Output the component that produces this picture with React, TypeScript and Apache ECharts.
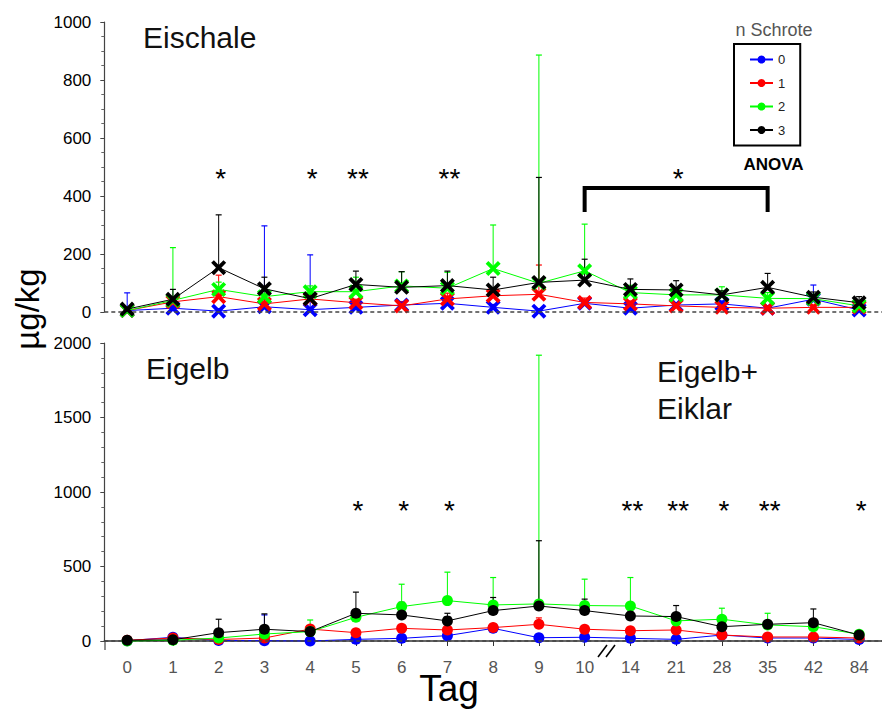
import React, { useEffect, useRef } from "react";
import * as echarts from "echarts";

// Sampling days (x categories)
const days = ["0", "1", "2", "3", "4", "5", "6", "7", "8", "9", "10", "14", "21", "28", "35", "42", "84"];

// Groups: number of shot pellets
const groups = ["0", "1", "2", "3"];
const groupColors = ["#0000ff", "#ff0000", "#00ff00", "#000000"];

// Eischale (µg/kg): means and upper standard deviations per group
const shellMean0 = [5, 13, 3, 18, 8, 16, 24, 30, 16, 3, 30, 13, 24, 28, 13, 44, 7];
const shellSd0 = [61, 8, 8, 279, 189, 10, 10, 12, 10, 8, 10, 8, 8, 10, 8, 49, 6];
const shellMean1 = [5, 35, 53, 28, 45, 32, 21, 45, 56, 61, 33, 28, 21, 16, 13, 16, 16];
const shellSd1 = [5, 10, 74, 15, 12, 12, 15, 20, 15, 101, 15, 10, 8, 8, 6, 8, 5];
const shellMean2 = [5, 40, 78, 53, 70, 70, 90, 82, 150, 99, 142, 67, 59, 59, 47, 46, 21];
const shellSd2 = [5, 182, 25, 30, 20, 50, 49, 55, 150, 787, 161, 25, 20, 28, 20, 15, 10];
const shellMean3 = [10, 44, 153, 80, 46, 95, 85, 91, 76, 102, 110, 78, 76, 59, 85, 51, 32];
const shellSd3 = [5, 34, 182, 40, 15, 46, 54, 50, 44, 362, 72, 36, 32, 14, 48, 18, 21];

// Eigelb / Eigelb+Eiklar (µg/kg)
const yolkMean0 = [2, 25, 3, 2, 0, 11, 18, 36, 85, 22, 25, 18, 11, 40, 20, 20, 10];
const yolkSd0 = [3, 10, 5, 173, 5, 5, 8, 10, 20, 10, 10, 8, 5, 10, 5, 5, 5];
const yolkMean1 = [5, 20, 10, 20, 80, 56, 85, 74, 90, 112, 79, 69, 74, 40, 27, 27, 20];
const yolkSd1 = [3, 8, 10, 15, 20, 15, 20, 20, 25, 43, 20, 15, 15, 8, 5, 5, 5];
const yolkMean2 = [0, 5, 20, 47, 63, 159, 231, 271, 242, 249, 238, 235, 135, 146, 108, 96, 45];
const yolkSd2 = [3, 5, 15, 20, 78, 40, 150, 191, 184, 1669, 177, 191, 25, 74, 78, 20, 10];
const yolkMean3 = [5, 8, 56, 79, 63, 186, 175, 135, 204, 235, 204, 168, 164, 96, 112, 123, 40];
const yolkSd3 = [3, 8, 90, 103, 20, 142, 85, 51, 88, 438, 77, 32, 74, 20, 25, 92, 10];

const shellMeans = [shellMean0, shellMean1, shellMean2, shellMean3];
const shellSds = [shellSd0, shellSd1, shellSd2, shellSd3];
const yolkMeans = [yolkMean0, yolkMean1, yolkMean2, yolkMean3];
const yolkSds = [yolkSd0, yolkSd1, yolkSd2, yolkSd3];

// Significance marks
const shellStarDays = ["2", "4", "5", "7", "21"];
const shellStarMarks = ["*", "*", "**", "**", "*"];
const yolkStarDays = ["5", "6", "7", "14", "21", "28", "35", "84"];
const yolkStarMarks = ["*", "*", "*", "**", "**", "*", "**", "*"];
const shellStarLevel = 462;
const yolkStarLevel = 875;

// ANOVA bracket over days 10..35 in the shell panel
const anovaFrom = "10";
const anovaTo = "35";
const anovaTop = 428;
const anovaEnd = 345;

const FONT = "'Liberation Sans', Arial, Helvetica, sans-serif";
const crossSymbol =
  "path://M0,1.8 L1.8,0 L5,3.2 L8.2,0 L10,1.8 L6.8,5 L10,8.2 L8.2,10 L5,6.8 L1.8,10 L0,8.2 L3.2,5 Z";

function errorSeries(panel: number, g: number, means: number[], sds: number[]) {
  const color = groupColors[g];
  return {
    type: "custom",
    xAxisIndex: panel,
    yAxisIndex: panel,
    silent: true,
    clip: false,
    z: 2,
    encode: { x: 0, y: 1 },
    data: means.map((m, i) => [i, m, sds[i]]),
    renderItem: (params: any, api: any) => {
      const i = api.value(0);
      const m = api.value(1);
      const s = api.value(2);
      const base = api.coord([i, m]);
      const top = api.coord([i, m + s]);
      return {
        type: "group",
        children: [
          {
            type: "line",
            shape: { x1: base[0], y1: base[1], x2: top[0], y2: top[1] },
            style: { stroke: color, lineWidth: 1 },
          },
          {
            type: "line",
            shape: { x1: top[0] - 3, y1: top[1], x2: top[0] + 3, y2: top[1] },
            style: { stroke: color, lineWidth: 1.2 },
          },
        ],
      };
    },
  };
}

function lineSeries(panel: number, g: number, means: number[], withZero: boolean) {
  const color = groupColors[g];
  const s: any = {
    type: "line",
    name: groups[g],
    xAxisIndex: panel,
    yAxisIndex: panel,
    data: means,
    symbol: panel === 0 ? crossSymbol : "circle",
    symbolSize: panel === 0 ? 15 : 11,
    showAllSymbol: true,
    clip: false,
    z: 3 + g,
    itemStyle: { color },
    lineStyle: { color, width: 1 },
  };
  if (withZero) {
    s.markLine = {
      silent: true,
      symbol: "none",
      label: { show: false },
      lineStyle: { type: [4, 3], color: "#444", width: 1.5 },
      data: [{ yAxis: 0 }],
    };
  }
  return s;
}

function starSeries(panel: number, starDays: string[], marks: string[], level: number) {
  return {
    type: "custom",
    xAxisIndex: panel,
    yAxisIndex: panel,
    silent: true,
    clip: false,
    z: 10,
    encode: { x: 0, y: 1 },
    data: starDays.map((d) => [days.indexOf(d), level]),
    renderItem: (params: any, api: any) => {
      const p = api.coord([api.value(0), api.value(1)]);
      return {
        type: "text",
        x: p[0] + 2,
        y: p[1],
        style: {
          text: marks[params.dataIndex],
          fill: "#000",
          font: `28px ${FONT}`,
          align: "center",
          verticalAlign: "middle",
        },
      };
    },
  };
}

function bracketSeries() {
  return {
    type: "custom",
    xAxisIndex: 0,
    yAxisIndex: 0,
    silent: true,
    clip: false,
    z: 10,
    encode: { x: 0, y: 1 },
    data: [[days.indexOf(anovaFrom), anovaTop, days.indexOf(anovaTo), anovaEnd]],
    renderItem: (params: any, api: any) => {
      const a = api.coord([api.value(0), api.value(1)]);
      const b = api.coord([api.value(2), api.value(1)]);
      const e = api.coord([api.value(0), api.value(3)]);
      return {
        type: "polyline",
        shape: {
          points: [
            [a[0], e[1]],
            [a[0], a[1]],
            [b[0], b[1]],
            [b[0], e[1]],
          ],
        },
        style: { stroke: "#000", lineWidth: 4, fill: null },
      };
    },
  };
}

export default function App() {
  const ref = useRef<HTMLDivElement>(null);

  useEffect(() => {
    if (!ref.current) return;
    const chart = echarts.init(ref.current, null, { renderer: "svg" });

    const series: any[] = [];
    // Yolk lines first so that the legend uses the circle markers
    groups.forEach((_, g) => series.push(lineSeries(1, g, yolkMeans[g], g === 0)));
    groups.forEach((_, g) => series.push(lineSeries(0, g, shellMeans[g], g === 0)));
    groups.forEach((_, g) => series.push(errorSeries(0, g, shellMeans[g], shellSds[g])));
    groups.forEach((_, g) => series.push(errorSeries(1, g, yolkMeans[g], yolkSds[g])));
    series.push(starSeries(0, shellStarDays, shellStarMarks, shellStarLevel));
    series.push(starSeries(1, yolkStarDays, yolkStarMarks, yolkStarLevel));
    series.push(bracketSeries());

    const yLabel = {
      color: "#000",
      fontSize: 17,
      margin: 13,
      fontFamily: FONT,
      formatter: (v: number) => String(v),
    };

    chart.setOption({
      animation: false,
      backgroundColor: "#fff",
      textStyle: { fontFamily: FONT },
      grid: [
        { left: 104.3, top: 22, width: 781, height: 290 },
        { left: 104.3, top: 343, width: 781, height: 298 },
      ],
      xAxis: [
        {
          type: "category",
          gridIndex: 0,
          data: days,
          boundaryGap: true,
          axisLine: { show: false },
          axisTick: { show: false },
          axisLabel: { show: false },
          splitLine: { show: false },
        },
        {
          type: "category",
          gridIndex: 1,
          data: days,
          boundaryGap: true,
          offset: 9,
          axisLine: { show: true, lineStyle: { color: "#333", width: 1.5 } },
          axisTick: { show: true, alignWithLabel: true, length: 5, lineStyle: { color: "#333" } },
          axisLabel: { color: "#555", fontSize: 17, margin: 9, fontFamily: FONT },
          splitLine: { show: false },
        },
      ],
      yAxis: [
        {
          type: "value",
          gridIndex: 0,
          min: 0,
          max: 1000,
          interval: 200,
          axisLine: { show: true, lineStyle: { color: "#444", width: 1.2 } },
          axisTick: { show: true, length: 4, lineStyle: { color: "#444" } },
          minorTick: { show: true, splitNumber: 4, length: 3, lineStyle: { color: "#666" } },
          axisLabel: yLabel,
          splitLine: { show: false },
        },
        {
          type: "value",
          gridIndex: 1,
          min: 0,
          max: 2000,
          interval: 500,
          axisLine: { show: true, lineStyle: { color: "#444", width: 1.2 } },
          axisTick: { show: true, length: 4, lineStyle: { color: "#444" } },
          minorTick: { show: true, splitNumber: 5, length: 3, lineStyle: { color: "#666" } },
          axisLabel: yLabel,
          splitLine: { show: false },
        },
      ],
      legend: {
        data: groups,
        orient: "vertical",
        left: 734,
        top: 44,
        padding: [9, 15, 9, 15],
        itemWidth: 23,
        itemHeight: 10,
        itemGap: 10.5,
        borderColor: "#000",
        borderWidth: 2,
        selectedMode: false,
        textStyle: { fontSize: 13, color: "#222", fontFamily: FONT },
      },
      graphic: [
        {
          type: "text",
          x: 143,
          y: 37.5,
          style: { text: "Eischale", font: `30px ${FONT}`, fill: "#111", verticalAlign: "middle" },
        },
        {
          type: "text",
          x: 146,
          y: 368.5,
          style: { text: "Eigelb", font: `30px ${FONT}`, fill: "#111", verticalAlign: "middle" },
        },
        {
          type: "text",
          x: 657,
          y: 371,
          style: { text: "Eigelb+", font: `30px ${FONT}`, fill: "#111", verticalAlign: "middle" },
        },
        {
          type: "text",
          x: 657,
          y: 408,
          style: { text: "Eiklar", font: `30px ${FONT}`, fill: "#111", verticalAlign: "middle" },
        },
        {
          type: "text",
          x: 773.5,
          y: 164,
          style: {
            text: "ANOVA",
            font: `bold 17px ${FONT}`,
            fill: "#000",
            align: "center",
            verticalAlign: "middle",
          },
        },
        {
          type: "text",
          x: 774,
          y: 30,
          style: {
            text: "n Schrote",
            font: `18px ${FONT}`,
            fill: "#555",
            align: "center",
            verticalAlign: "middle",
          },
        },
        {
          type: "text",
          x: 27,
          y: 309,
          rotation: Math.PI / 2,
          style: {
            text: "µg/kg",
            font: `33px ${FONT}`,
            fill: "#000",
            align: "center",
            verticalAlign: "middle",
          },
        },
        {
          type: "text",
          x: 449,
          y: 688,
          style: {
            text: "Tag",
            font: `37px ${FONT}`,
            fill: "#000",
            align: "center",
            verticalAlign: "middle",
          },
        },
        // y-axis line continues down to the offset x-axis
        {
          type: "line",
          shape: { x1: 105, y1: 641, x2: 105, y2: 650 },
          style: { stroke: "#444", lineWidth: 1.2 },
        },
        // axis break mark between day 10 and 14
        {
          type: "line",
          shape: { x1: 598, y1: 657, x2: 607, y2: 645 },
          style: { stroke: "#000", lineWidth: 1.5 },
        },
        {
          type: "line",
          shape: { x1: 606, y1: 657, x2: 615, y2: 645 },
          style: { stroke: "#000", lineWidth: 1.5 },
        },
      ],
      series,
    });

    return () => chart.dispose();
  }, []);

  return (
    <div
      ref={ref}
      style={{ position: "absolute", left: 0, top: 0, width: 882, height: 709, background: "#fff" }}
    />
  );
}
